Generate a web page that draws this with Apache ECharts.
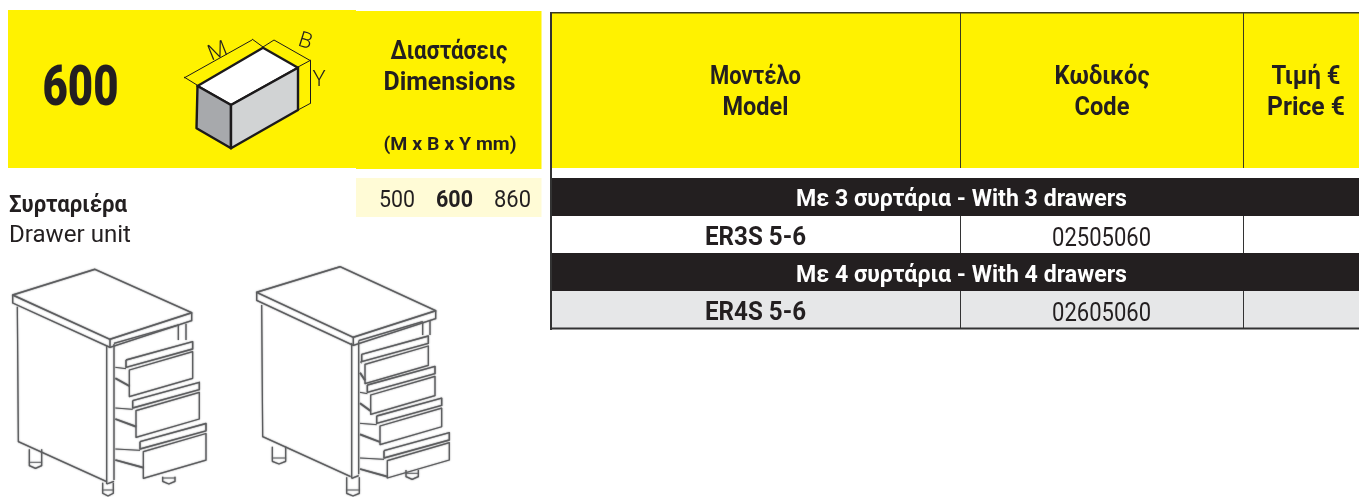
<!DOCTYPE html>
<html>
<head>
<meta charset="utf-8">
<title>600</title>
<script src="https://cdn.jsdelivr.net/npm/echarts@6/dist/echarts.min.js"></script>
<style>
html, body { margin: 0; padding: 0; background: #fff; }
#main { width: 1359px; height: 497px; }
</style>
</head>
<body>
<div id="main"></div>
<script>
var seriesTitle = '600';
var dimensionHead = ['Διαστάσεις', 'Dimensions', '(M x B x Y mm)'];
var dimensionValues = ['500', '600', '860'];
var boxAxes = ['M', 'B', 'Y'];
var productName = ['Συρταριέρα', 'Drawer unit'];
var columnHead = [['Μοντέλο', 'Model'], ['Κωδικός', 'Code'], ['Τιμή €', 'Price €']];
var groupNames = ['Με 3 συρτάρια - With 3 drawers', 'Με 4 συρτάρια - With 4 drawers'];
var models = ['ER3S 5-6', 'ER4S 5-6'];
var codes = ['02505060', '02605060'];

var YELLOW = '#fff200', DARK = '#231f20', LINE = '#5c5d5f';
var FONT = 'Roboto';
var els = [];
var ctx = document.createElement('canvas').getContext('2d');

function rect(x, y, w, h, fill) {
    els.push({ type: 'rect', shape: { x: x, y: y, width: w, height: h }, style: { fill: fill } });
}

// text squeezed to the width it has in the picture (the original font is narrower)
function label(text, cx, cy, width, size, weight, color, align) {
    ctx.font = weight + ' ' + size + 'px ' + FONT;
    var w = ctx.measureText(text).width;
    els.push({
        type: 'text', x: cx, y: cy, scaleX: width / w,
        style: {
            text: text, x: 0, y: 0, align: align || 'center', verticalAlign: 'middle',
            fontFamily: FONT, fontSize: size, fontWeight: weight, fill: color || DARK
        }
    });
}

function line(pts, color, width, closed, fill, blur) {
    els.push({
        type: closed ? 'polygon' : 'polyline',
        shape: { points: pts },
        style: {
            stroke: color || LINE, lineWidth: width || 1.2, fill: fill || null, lineJoin: 'round',
            shadowColor: blur ? LINE : null, shadowBlur: blur || 0
        }
    });
}

// ---- left yellow header
rect(8, 10, 348, 158, YELLOW);
rect(356, 11, 185.5, 158, YELLOW);
label(seriesTitle, 80.5, 91, 76, 55, 900);
label(dimensionHead[0], 449, 53, 117, 25, 700);
label(dimensionHead[1], 449.5, 84, 132, 25, 700);
label(dimensionHead[2], 450, 145.5, 133, 18, 700);

// ---- box pictogram
line([[197.5, 86], [263, 47.7], [298, 67.7], [231, 105]], '#1c1a1b', 2.4, true, '#ffffff');
line([[197.5, 86], [231, 105], [231, 148.3], [196.5, 128.3]], '#1c1a1b', 2.4, true, '#a7a9ac');
line([[231, 105], [298, 67.7], [298, 110], [231, 148.3]], '#1c1a1b', 2.4, true, '#d1d3d4');
line([[184, 78], [252, 40]], '#1c1a1b', 1);
line([[184, 77], [197, 85]], '#1c1a1b', 1);
line([[252, 39], [263, 47]], '#1c1a1b', 1);
line([[274, 40], [311, 61]], '#1c1a1b', 1);
line([[263, 47], [274, 40]], '#1c1a1b', 1);
line([[298, 67], [311, 60]], '#1c1a1b', 1);
line([[310.5, 61], [310.5, 103]], '#1c1a1b', 1);
line([[298, 110], [311, 103]], '#1c1a1b', 1);
els.push({ type: 'text', x: 218, y: 52, rotation: 0.38, style: { text: boxAxes[0], x: 0, y: 0, align: 'center', verticalAlign: 'middle', fontFamily: FONT, fontWeight: 300, fontSize: 22, fill: DARK } });
els.push({ type: 'text', x: 305, y: 42, rotation: -0.3, style: { text: boxAxes[1], x: 0, y: 0, align: 'center', verticalAlign: 'middle', fontFamily: FONT, fontWeight: 300, fontSize: 22, fill: DARK } });
els.push({ type: 'text', x: 319, y: 80, style: { text: boxAxes[2], x: 0, y: 0, align: 'center', verticalAlign: 'middle', fontFamily: FONT, fontWeight: 300, fontSize: 22, fill: DARK } });

// ---- dimensions strip
rect(356, 178, 185.5, 39, '#fffbd6');
label(dimensionValues[0], 397, 200.5, 36, 24, 400);
label(dimensionValues[1], 454.5, 200.5, 37, 24, 700);
label(dimensionValues[2], 512.5, 200.5, 37, 24, 400);

// ---- product name
label(productName[0], 9, 206.5, 118, 23, 700, DARK, 'left');
label(productName[1], 9, 236.5, 122, 23, 400, DARK, 'left');

// ---- table
rect(552, 13, 807, 155, YELLOW);
rect(552, 178, 807, 38, DARK);
rect(552, 216, 807, 37, '#ffffff');
rect(552, 253, 807, 38, DARK);
rect(552, 291, 807, 37, '#e6e7e8');
rect(550, 12, 809, 1.5, '#3a3a20');
rect(550, 12, 2, 318, '#333333');
rect(550, 327.5, 809, 2, '#333333');
[960, 1243].forEach(function (x) {
    rect(x, 13, 1, 155, '#3a3a20');
    rect(x, 216, 1, 37, '#333333');
    rect(x, 291, 1, 37, '#333333');
});
var headX = [755.5, 1102, 1306], headW = [[91, 66], [95, 55], [69, 78]];
columnHead.forEach(function (h, i) {
    label(h[0], headX[i], 78, headW[i][0], 25, 700);
    label(h[1], headX[i], 109, headW[i][1], 25, 700);
});
label(groupNames[0], 961.5, 200.5, 331, 23, 700, '#ffffff');
label(groupNames[1], 961.5, 276.5, 331, 23, 700, '#ffffff');
label(models[0], 755.5, 238.5, 101, 25, 700);
label(models[1], 755.5, 313.5, 101, 25, 700);
label(codes[0], 1101.5, 239.5, 99, 25, 400);
label(codes[1], 1101.5, 314.5, 99, 25, 400);

// ---- cabinets, sketched in 3x crop coordinates
function cabinet(ox, oy, top, side, post, legs, back, drawers) {
    function p(list) {
        return list.map(function (q) { return [ox + q[0] / 3, oy + q[1] / 3]; });
    }
    function l(list, w, closed) { line(p(list), LINE, w, closed, null, 1.5); }
    l(top, 1.5, true);
    var h = 24;
    l([top[0], [top[0][0], top[0][1] + h], [top[3][0], top[3][1] + h], [top[2][0], top[2][1] + h], top[2]], 1.3);
    l([top[3], [top[3][0], top[3][1] + h]], 1.3);
    l(side, 1.2);
    l([[post[0], post[1]], [post[0], post[2]]], 1.2);
    l([[post[3], post[1] - 6], [post[3], post[2] - 12]], 1.2);
    l([[post[0], post[2]], [post[3], post[2] - 8]], 1.2);
    legs.forEach(function (g) {
        l([[g[0], g[2]], [g[0], g[3] - 8], [(g[0] + g[1]) / 2, g[3]], [g[1], g[3] - 8], [g[1], g[2]]], 1.2);
        l([[g[0], g[3] - 18], [g[1], g[3] - 18]], 0.8);
    });
    l([[back[0], back[2]], [back[0], back[3]]], 1.2);
    l([[back[1], back[2] - 4], [back[1], back[3]]], 1.2);
    l([[post[3], post[1] - 8], [back[0], back[2]]], 1.2);
    drawers.forEach(function (d) {
        var x = d[0], y = d[1], r = d[2], hgt = d[3];
        var dy = (r - x) * -0.29;
        // rail
        l([[x - 10, y], [r, y + dy], [r, y + dy + 22], [x - 10, y + 22], [x - 10, y]], 1.4);
        // front
        l([[x, y + 30], [r, y + 30 + dy], [r, y + 30 + dy + hgt], [x, y + 30 + hgt]], 1.2, true);
        // slide going back into the carcass
        l([[post[3] + 4, y + 22], [x - 10, y + 26]], 1);
        l([[post[3] + 4, y + 55], [x, y + 78]], 1.8);
    });
}

cabinet(0, 260,
    [[38, 105], [285, 28], [575, 158], [330, 238]],
    [[52, 140], [55, 545], [320, 665]],
    [320, 258, 672, 342],
    [[88, 125, 568, 625], [308, 340, 668, 708], [488, 525, 650, 672]],
    [535, 558, 195, 240],
    [[388, 300, 578, 80], [408, 422, 598, 80], [430, 545, 618, 80]]);

cabinet(240, 260,
    [[50, 97], [300, 20], [587, 152], [340, 232]],
    [[65, 135], [68, 530], [332, 650]],
    [335, 250, 655, 356],
    [[97, 137, 560, 612], [320, 358, 652, 708], [498, 535, 630, 658]],
    [548, 570, 185, 225],
    [[375, 283, 565, 58], [392, 375, 585, 58], [420, 468, 605, 56], [442, 572, 628, 52]]);

var chart = echarts.init(document.getElementById('main'), null, { renderer: 'canvas' });
chart.setOption({ animation: false, backgroundColor: '#ffffff', graphic: { elements: els } });
</script>
</body>
</html>
